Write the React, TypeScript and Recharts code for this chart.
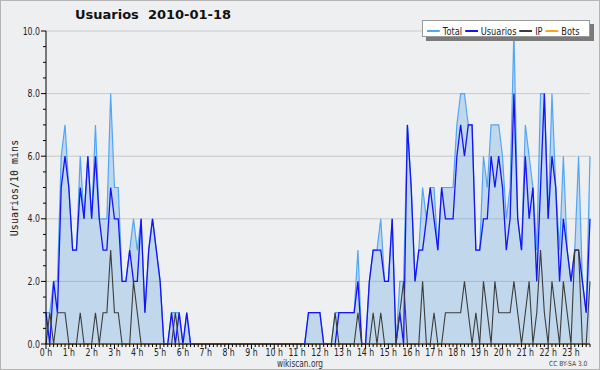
import { ComposedChart, Area, Line, XAxis, YAxis, CartesianGrid } from "recharts";

// 10-minute slots, 0h00 .. 23h50
const total = [
  1, 1, 2, 2, 6, 7, 5, 3, 3, 6, 4, 6,
  4, 7, 4, 4, 4, 8, 5, 5, 2, 2, 3, 4,
  3, 4, 1, 3, 4, 3, 2, 0, 0, 1, 1, 1,
  0, 1, 0, 0, 0, 0, 0, 0, 0, 0, 0, 0,
  0, 0, 0, 0, 0, 0, 0, 0, 0, 0, 0, 0,
  0, 0, 0, 0, 0, 0, 0, 0, 0, 1, 1, 1,
  1, 0, 0, 0, 1, 1, 1, 1, 1, 1, 3, 0,
  0, 2, 3, 3, 4, 2, 2, 4, 0, 2, 2, 7,
  5, 2, 3, 5, 4, 5, 5, 3, 5, 5, 5, 5,
  7, 8, 8, 7, 7, 3, 3, 6, 5, 7, 7, 7,
  6, 4, 5, 10, 4, 3, 7, 6, 5, 3, 8, 8,
  4, 8, 5, 3, 6, 3, 2, 3, 6, 2, 1, 6,
];

const usuarios = [
  1, 0, 2, 1, 5, 6, 5, 3, 3, 5, 4, 6,
  4, 6, 4, 3, 3, 5, 4, 4, 2, 2, 3, 2,
  2, 4, 1, 3, 4, 3, 2, 0, 0, 1, 0, 1,
  0, 1, 0, 0, 0, 0, 0, 0, 0, 0, 0, 0,
  0, 0, 0, 0, 0, 0, 0, 0, 0, 0, 0, 0,
  0, 0, 0, 0, 0, 0, 0, 0, 0, 1, 1, 1,
  1, 0, 0, 0, 0, 1, 1, 1, 1, 1, 2, 0,
  0, 2, 3, 3, 3, 2, 2, 4, 0, 1, 0, 7,
  5, 2, 3, 3, 4, 5, 4, 3, 5, 4, 4, 4,
  6, 7, 6, 7, 7, 3, 3, 4, 4, 6, 5, 6,
  5, 3, 4, 8, 4, 3, 6, 4, 5, 2, 5, 8,
  4, 6, 5, 2, 4, 3, 2, 3, 3, 2, 1, 4,
];

const ip = [
  0, 1, 0, 1, 1, 1, 0, 0, 0, 1, 0, 0,
  0, 1, 0, 1, 1, 3, 1, 1, 0, 0, 0, 2,
  1, 0, 0, 0, 0, 0, 0, 0, 0, 0, 1, 0,
  0, 0, 0, 0, 0, 0, 0, 0, 0, 0, 0, 0,
  0, 0, 0, 0, 0, 0, 0, 0, 0, 0, 0, 0,
  0, 0, 0, 0, 0, 0, 0, 0, 0, 0, 0, 0,
  0, 0, 0, 0, 1, 0, 0, 0, 0, 0, 1, 0,
  0, 0, 1, 0, 1, 0, 0, 0, 0, 1, 2, 0,
  0, 0, 0, 2, 0, 0, 1, 0, 0, 1, 1, 1,
  1, 1, 2, 1, 0, 1, 0, 2, 1, 0, 2, 1,
  1, 1, 1, 2, 1, 0, 1, 2, 0, 1, 3, 1,
  0, 2, 1, 0, 2, 1, 0, 3, 3, 0, 0, 2,
];

const bots = [
  0, 0, 0, 0, 0, 0, 0, 0, 0, 0, 0, 0,
  0, 0, 0, 0, 0, 0, 0, 0, 0, 0, 0, 0,
  0, 0, 0, 0, 0, 0, 0, 0, 0, 0, 0, 0,
  0, 0, 0, 0, 0, 0, 0, 0, 0, 0, 0, 0,
  0, 0, 0, 0, 0, 0, 0, 0, 0, 0, 0, 0,
  0, 0, 0, 0, 0, 0, 0, 0, 0, 0, 0, 0,
  0, 0, 0, 0, 0, 0, 0, 0, 0, 0, 0, 0,
  0, 0, 0, 0, 0, 0, 0, 0, 0, 0, 0, 0,
  0, 0, 0, 0, 0, 0, 0, 0, 0, 0, 0, 0,
  0, 0, 0, 0, 0, 0, 0, 0, 0, 0, 0, 0,
  0, 0, 0, 0, 0, 0, 0, 0, 0, 0, 0, 0,
  0, 0, 0, 0, 0, 0, 0, 0, 0, 0, 0, 0,
];

const hourLabels = [
  "0 h", "1 h", "2 h", "3 h", "4 h", "5 h", "6 h", "7 h", "8 h", "9 h", "10 h", "11 h",
  "12 h", "13 h", "14 h", "15 h", "16 h", "17 h", "18 h", "19 h", "20 h", "21 h", "22 h", "23 h",
];

const yTicks = [0, 0.5, 1, 1.5, 2, 2.5, 3, 3.5, 4, 4.5, 5, 5.5, 6, 6.5, 7, 7.5, 8, 8.5, 9, 9.5, 10];
const yGrid = [2, 4, 6, 8, 10];

const series = [
  { key: "total", name: "Total", color: "#52a6f5" },
  { key: "usuarios", name: "Usuarios", color: "#1414f5" },
  { key: "ip", name: "IP", color: "#3c3c3c" },
  { key: "bots", name: "Bots", color: "#ffa31a" },
];

const data = total.map((v, i) => ({
  slot: i,
  total: v,
  usuarios: usuarios[i],
  ip: ip[i],
  bots: bots[i],
}));

const FONT = "'DejaVu Sans', sans-serif";
const SQUEEZE = 0.78; // the original uses a condensed face

function XTick(props: any) {
  const { x, y, payload } = props;
  const v = payload.value as number;
  const isHour = v % 6 === 0;
  return (
    <g>
      <line x1={x} x2={x} y1={y} y2={y + (isHour ? 5 : 3)} stroke="#000" />
      {isHour && (
        <text
          transform={`translate(${x},${y + 12}) scale(${SQUEEZE},1)`}
          textAnchor="middle"
          fontSize={10}
          fontFamily={FONT}
          fill="#222"
        >
          {hourLabels[v / 6]}
        </text>
      )}
    </g>
  );
}

function YTick(props: any) {
  const { x, y, payload } = props;
  const v = payload.value as number;
  const major = v % 2 === 0;
  return (
    <g>
      <line x1={x - (major ? 5 : 3)} x2={x} y1={y} y2={y} stroke="#000" />
      {major && (
        <text
          transform={`translate(${x - 6},${y + 3.5}) scale(${SQUEEZE},1)`}
          textAnchor="end"
          fontSize={10}
          fontFamily={FONT}
          fill="#222"
        >
          {v.toFixed(1)}
        </text>
      )}
    </g>
  );
}

export default function App() {
  return (
    <div
      style={{
        position: "absolute",
        left: 0,
        top: 0,
        width: 600,
        height: 370,
        background: "#eeeff1",
        outline: "1px solid #b4b4b4",
        outlineOffset: -1,
        fontFamily: FONT,
      }}
    >
      <ComposedChart
        width={600}
        height={370}
        data={data}
        margin={{ top: 31, right: 10, bottom: 0, left: 0 }}
      >
        <CartesianGrid vertical={false} horizontalValues={yGrid} stroke="#c9c9c9" />
        <Area
          type="linear"
          dataKey="total"
          stroke={series[0].color}
          strokeWidth={1.2}
          fill="#3d8fe0"
          fillOpacity={0.25}
          dot={false}
          activeDot={false}
          isAnimationActive={false}
        />
        <Line type="linear" dataKey="usuarios" stroke={series[1].color} strokeWidth={1.3} dot={false} activeDot={false} isAnimationActive={false} />
        <Line type="linear" dataKey="ip" stroke={series[2].color} strokeWidth={1.1} dot={false} activeDot={false} isAnimationActive={false} />
        <Line type="linear" dataKey="bots" stroke={series[3].color} strokeWidth={1.1} dot={false} activeDot={false} isAnimationActive={false} />
        <XAxis
          dataKey="slot"
          type="number"
          domain={[0, 143]}
          ticks={data.map((d) => d.slot)}
          interval={0}
          height={26}
          tickSize={0}
          tickMargin={0}
          tickLine={false}
          axisLine={{ stroke: "#000" }}
          tick={<XTick />}
        />
        <YAxis
          type="number"
          domain={[0, 10]}
          ticks={yTicks}
          interval={0}
          width={46}
          tickSize={0}
          tickMargin={0}
          tickLine={false}
          axisLine={{ stroke: "#000" }}
          tick={<YTick />}
        />
      </ComposedChart>

      <div
        style={{
          position: "absolute",
          left: 75,
          top: 7,
          fontSize: 13,
          fontWeight: "bold",
          whiteSpace: "pre",
          color: "#111",
        }}
      >
        {"Usuarios  2010-01-18"}
      </div>

      <div style={{ position: "absolute", left: 14, top: 188, width: 0, height: 0 }}>
        <div
          style={{
            position: "absolute",
            left: 0,
            top: 0,
            transform: "translate(-50%, -50%) rotate(-90deg)",
            whiteSpace: "nowrap",
            fontFamily: "'DejaVu Sans Mono', monospace",
            fontSize: 10,
            color: "#222",
          }}
        >
          Usuarios/10 mins
        </div>
      </div>

      <div
        style={{
          position: "absolute",
          left: 422,
          top: 20,
          width: 168,
          height: 17,
          background: "#fff",
          border: "1px solid #9a9a9a",
          boxShadow: "4px 4px 0 #7a7a7a",
          boxSizing: "border-box",
        }}
      >
        <div
          style={{
            position: "absolute",
            left: 4,
            top: 0,
            height: 15,
            lineHeight: "15px",
            fontSize: 11,
            color: "#222",
            whiteSpace: "nowrap",
            transform: "scaleX(0.75)",
            transformOrigin: "left center",
          }}
        >
          {series.map((s) => (
            <span key={s.key} style={{ display: "inline-flex", alignItems: "center", marginRight: 4 }}>
              <span style={{ display: "inline-block", width: 17, height: 2, background: s.color, marginRight: 4 }} />
              {s.name}
            </span>
          ))}
        </div>
      </div>

      <div
        style={{
          position: "absolute",
          left: 300,
          top: 359,
          fontSize: 10,
          lineHeight: "10px",
          color: "#333",
          transform: "translateX(-50%) scaleX(0.74)",
          whiteSpace: "nowrap",
        }}
      >
        wikiscan.org
      </div>
      <div
        style={{
          position: "absolute",
          left: 549,
          top: 360,
          fontSize: 7,
          lineHeight: "8px",
          color: "#444",
          whiteSpace: "nowrap",
          transform: "scaleX(0.85)",
          transformOrigin: "left center",
        }}
      >
        CC BY-SA 3.0
      </div>
    </div>
  );
}
